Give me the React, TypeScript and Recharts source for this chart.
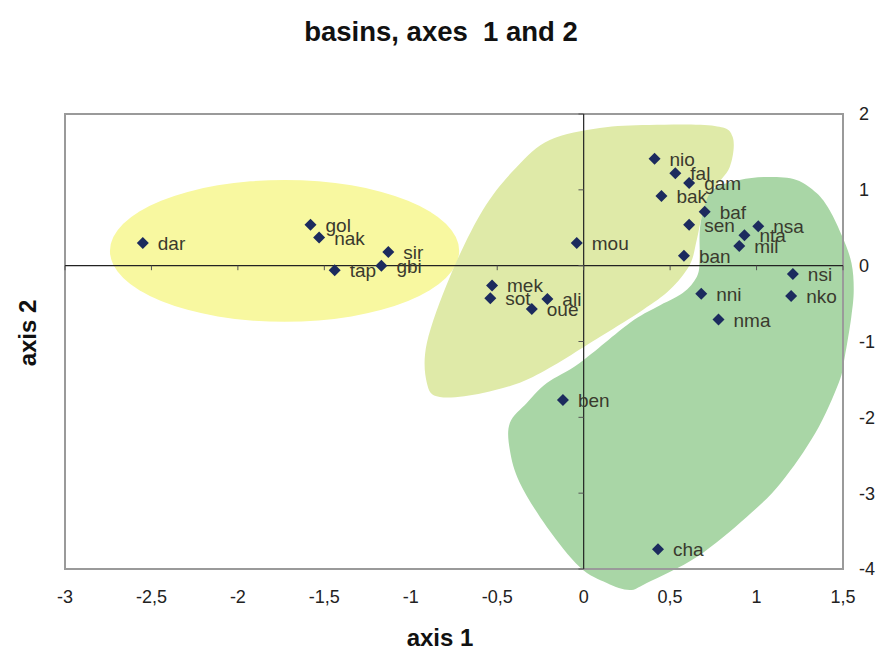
import React from 'react';
import { ScatterChart, Scatter, XAxis, YAxis, ReferenceArea, ReferenceLine } from 'recharts';

// ---- data ----
const basinNames = ['dar','gol','nak','sir','gbi','tap','nio','fal','gam','bak','baf','sen','nsa','nta','mil','ban','mou','nsi','nni','nko','nma','mek','sot','ali','oue','ben','cha'];
const axis1Values = [-2.55,-1.58,-1.53,-1.13,-1.17,-1.44,0.41,0.53,0.61,0.45,0.70,0.61,1.01,0.93,0.90,0.58,-0.04,1.21,0.68,1.20,0.78,-0.53,-0.54,-0.21,-0.30,-0.12,0.43];
const axis2Values = [0.30,0.54,0.37,0.18,0.00,-0.06,1.41,1.22,1.09,0.92,0.71,0.54,0.52,0.40,0.26,0.13,0.30,-0.11,-0.37,-0.40,-0.71,-0.26,-0.43,-0.44,-0.57,-1.77,-3.74];

const xTicks = [-3,-2.5,-2,-1.5,-1,-0.5,0,0.5,1,1.5];
const yTicks = [-4,-3,-2,-1,0,1,2];

// group outlines in axis units
const yellowGroup = { x1: -2.74, x2: -0.72, y1: -0.74, y2: 1.13 };
const lightGroup: [number, number][] = [
  [0.093,1.816],[0.382,1.855],[0.758,1.842],[0.862,1.697],[0.845,1.302],[0.746,0.999],[0.689,0.695],
  [0.654,0.339],[0.613,0.009],[0.498,-0.319],[0.342,-0.584],[0.093,-0.940],[-0.294,-1.467],
  [-0.583,-1.678],[-0.832,-1.731],[-0.907,-1.546],[-0.907,-1.019],[-0.774,-0.148],[-0.583,0.735],
  [-0.387,1.302],[-0.196,1.658],
];
const darkGroup: [number, number][] = [
  [0.746,0.999],[0.902,1.131],[1.075,1.170],[1.231,1.131],[1.347,0.959],[1.422,0.735],[1.497,0.378],
  [1.549,0.036],[1.562,-0.320],[1.548,-0.676],[1.510,-1.203],[1.475,-1.546],[1.340,-2.206],
  [1.140,-2.865],[0.943,-3.313],[0.654,-3.841],[0.365,-4.184],[0.266,-4.276],[0.134,-4.184],
  [-0.023,-3.973],[-0.213,-3.445],[-0.369,-2.865],[-0.427,-2.430],[-0.427,-2.074],[-0.329,-1.810],
  [-0.213,-1.546],[-0.023,-1.282],[0.266,-0.755],[0.423,-0.544],[0.573,-0.360],[0.654,-0.149],
  [0.671,0.075],[0.671,0.431],[0.689,0.695],
];

const points = basinNames.map((name, i) => ({ name, x: axis1Values[i], y: axis2Values[i] }));

const FONT = '"Liberation Sans", Arial, sans-serif';

function bbox(pts: [number, number][]) {
  const xs = pts.map(p => p[0]);
  const ys = pts.map(p => p[1]);
  return { x1: Math.min(...xs), x2: Math.max(...xs), y1: Math.min(...ys), y2: Math.max(...ys) };
}

function blobShape(pts: [number, number][], fill: string) {
  const b = bbox(pts);
  return (props: any) => {
    const { x, y, width, height } = props;
    const map = (p: [number, number]) => [
      x + ((p[0] - b.x1) / (b.x2 - b.x1)) * width,
      y + ((b.y2 - p[1]) / (b.y2 - b.y1)) * height,
    ];
    const P = pts.map(map);
    const n = P.length;
    let d = `M${P[0][0]},${P[0][1]}`;
    for (let i = 0; i < n; i++) {
      const p0 = P[(i - 1 + n) % n];
      const p1 = P[i];
      const p2 = P[(i + 1) % n];
      const p3 = P[(i + 2) % n];
      const c1 = [p1[0] + (p2[0] - p0[0]) / 6, p1[1] + (p2[1] - p0[1]) / 6];
      const c2 = [p2[0] - (p3[0] - p1[0]) / 6, p2[1] - (p3[1] - p1[1]) / 6];
      d += ` C${c1[0]},${c1[1]} ${c2[0]},${c2[1]} ${p2[0]},${p2[1]}`;
    }
    d += ' Z';
    return <path d={d} fill={fill} stroke="none" />;
  };
}

const ellipseShape = (props: any) => {
  const { x, y, width, height } = props;
  return <ellipse cx={x + width / 2} cy={y + height / 2} rx={width / 2} ry={height / 2} fill="#F8F8A0" />;
};

const renderPoint = (props: any) => {
  const { cx, cy, payload } = props;
  const r = 6;
  return (
    <g>
      <polygon points={`${cx},${cy - r} ${cx + r},${cy} ${cx},${cy + r} ${cx - r},${cy}`} fill="#1C2B5E" />
      <text x={cx + 15} y={cy + 7} fontSize={19} fontFamily={FONT} fill="#3a3a2e">{payload.name}</text>
    </g>
  );
};

const fmt = (v: number) => String(v).replace('.', ',');

export default function App() {
  const lb = bbox(lightGroup);
  const db = bbox(darkGroup);
  return (
    <div style={{ position: 'absolute', left: 0, top: 0, width: 880, height: 657, background: '#fff', fontFamily: FONT }}>
      <ScatterChart width={880} height={657} margin={{ top: 114, left: 65, right: 7, bottom: 58 }}>
        <XAxis type="number" dataKey="x" domain={[-3, 1.5]} ticks={xTicks} allowDataOverflow
          axisLine={false} tickLine={false} height={30} tickMargin={15} tickFormatter={fmt}
          tick={{ fontSize: 18, fill: '#222', fontFamily: FONT }} />
        <YAxis type="number" dataKey="y" orientation="right" domain={[-4, 2]} ticks={yTicks} allowDataOverflow
          axisLine={false} tickLine={false} width={30} tickMargin={10}
          tick={{ fontSize: 18, fill: '#222', fontFamily: FONT, textAnchor: 'start' }} />
        <ReferenceArea {...yellowGroup} ifOverflow="visible" shape={ellipseShape} />
        <ReferenceArea x1={lb.x1} x2={lb.x2} y1={lb.y1} y2={lb.y2} ifOverflow="visible" shape={blobShape(lightGroup, '#DFEAA8')} />
        <ReferenceArea x1={db.x1} x2={db.x2} y1={db.y1} y2={db.y2} ifOverflow="visible" shape={blobShape(darkGroup, '#A9D6A6')} />
        <ReferenceLine y={0} stroke="#222" strokeWidth={1.2} ifOverflow="visible" />
        <ReferenceLine x={0} stroke="#222" strokeWidth={1.2} ifOverflow="visible" />
        {xTicks.map(t => (
          <ReferenceLine key={'xt' + t} segment={[{ x: t, y: 0 }, { x: t, y: -0.06 }]} stroke="#555" ifOverflow="visible" />
        ))}
        {yTicks.map(t => (
          <ReferenceLine key={'yt' + t} segment={[{ x: 0, y: t }, { x: -0.03, y: t }]} stroke="#555" ifOverflow="visible" />
        ))}
        <ReferenceArea x1={-3} x2={1.5} y1={-4} y2={2} ifOverflow="visible" fill="none" fillOpacity={0} stroke="#9a9a9a" strokeWidth={2} strokeOpacity={1} />
        <Scatter data={points} isAnimationActive={false} shape={renderPoint} />
      </ScatterChart>
      <div style={{ position: 'absolute', left: 0, width: 882, top: 16, textAlign: 'center', fontWeight: 'bold', fontSize: 27.5, color: '#111', whiteSpace: 'pre' }}>
        {'basins, axes  1 and 2'}
      </div>
      <div style={{ position: 'absolute', left: 0, width: 880, top: 624, textAlign: 'center', fontWeight: 'bold', fontSize: 24, color: '#111' }}>
        axis 1
      </div>
      <div style={{ position: 'absolute', left: 28, top: 333, transform: 'translate(-50%, -50%) rotate(-90deg)', fontWeight: 'bold', fontSize: 24, color: '#111', whiteSpace: 'nowrap' }}>
        axis 2
      </div>
    </div>
  );
}
